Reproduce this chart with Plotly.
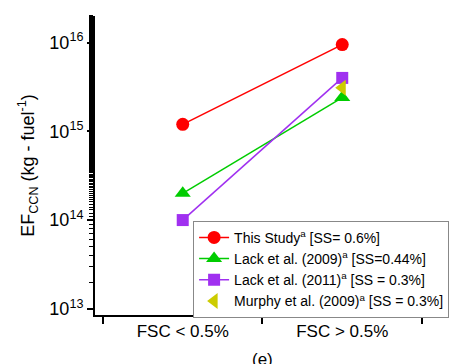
import plotly.graph_objects as go

categories = ["FSC < 0.5%", "FSC > 0.5%"]
cat_pos = [0.5, 1.5]
this_study = [1.2e15, 9.5e15]
lack_2009 = [2.0e14, 2.4e15]
lack_2011 = [1.0e14, 4.0e15]
murphy_2009 = [None, 3.1e15]
ytick_vals = [1e13, 1e14, 1e15, 1e16]
ytick_text = ["10<sup>13</sup>", "10<sup>14</sup>", "10<sup>15</sup>", "10<sup>16</sup>"]

fig = go.Figure()
fig.add_trace(go.Scatter(x=cat_pos, y=this_study, mode="lines+markers",
                         name="This Study<sup>a</sup> [SS= 0.6%]",
                         line=dict(color="#ff0000", width=1.5),
                         marker=dict(symbol="circle", size=13, color="#ff0000")))
fig.add_trace(go.Scatter(x=cat_pos, y=lack_2009, mode="lines+markers",
                         name="Lack et al. (2009)<sup>a</sup> [SS=0.44%]",
                         line=dict(color="#00cc00", width=1.5),
                         marker=dict(symbol="triangle-up", size=14, color="#00cc00")))
fig.add_trace(go.Scatter(x=cat_pos, y=lack_2011, mode="lines+markers",
                         name="Lack et al. (2011)<sup>a</sup> [SS = 0.3%]",
                         line=dict(color="#a030f0", width=1.5),
                         marker=dict(symbol="square", size=12, color="#a030f0")))
fig.add_trace(go.Scatter(x=cat_pos, y=murphy_2009, mode="markers",
                         name="Murphy et al. (2009)<sup>a</sup> [SS = 0.3%]",
                         marker=dict(symbol="triangle-left", size=14, color="#cccc00")))

fig.update_layout(
    width=455, height=356,
    margin=dict(l=87, r=41, t=8, b=49, autoexpand=False),
    paper_bgcolor="white", plot_bgcolor="white",
    font=dict(family="Liberation Sans, Arial, sans-serif", size=14, color="black"),
    showlegend=True,
    legend=dict(x=0.3, y=0.315, xanchor="left", yanchor="top",
                bordercolor="#888888", borderwidth=1, bgcolor="white",
                font=dict(size=14), tracegroupgap=0, itemwidth=30),
)
fig.update_xaxes(
    range=[-0.05, 2.0], showgrid=False, zeroline=False, automargin=False,
    showline=True, linecolor="black", linewidth=2,
    tickvals=cat_pos, ticktext=categories, ticks="", tickfont=dict(size=17),
    minor=dict(tickvals=[0, 1, 2], ticks="outside", ticklen=7, tickwidth=2, tickcolor="black"),
)
fig.update_yaxes(
    type="log", range=[12.93, 16.30], showgrid=False, zeroline=False, automargin=False,
    showline=True, linecolor="black", linewidth=2,
    tickvals=ytick_vals, ticktext=ytick_text, ticks="outside", ticklen=6, tickwidth=2,
    tickcolor="black", tickfont=dict(size=18),
    minor=dict(ticks="outside", ticklen=4, tickwidth=1, tickcolor="black", showgrid=False),
    title=dict(text="EF<sub>CCN</sub> (kg - fuel<sup>-1</sup>)", font=dict(size=18), standoff=10),
)
fig.add_annotation(x=1.0, y=-0.112, xref="x", yref="paper", text="(e)", showarrow=False,
                   yanchor="top", font=dict(size=17))

fig.write_html("out.html")
